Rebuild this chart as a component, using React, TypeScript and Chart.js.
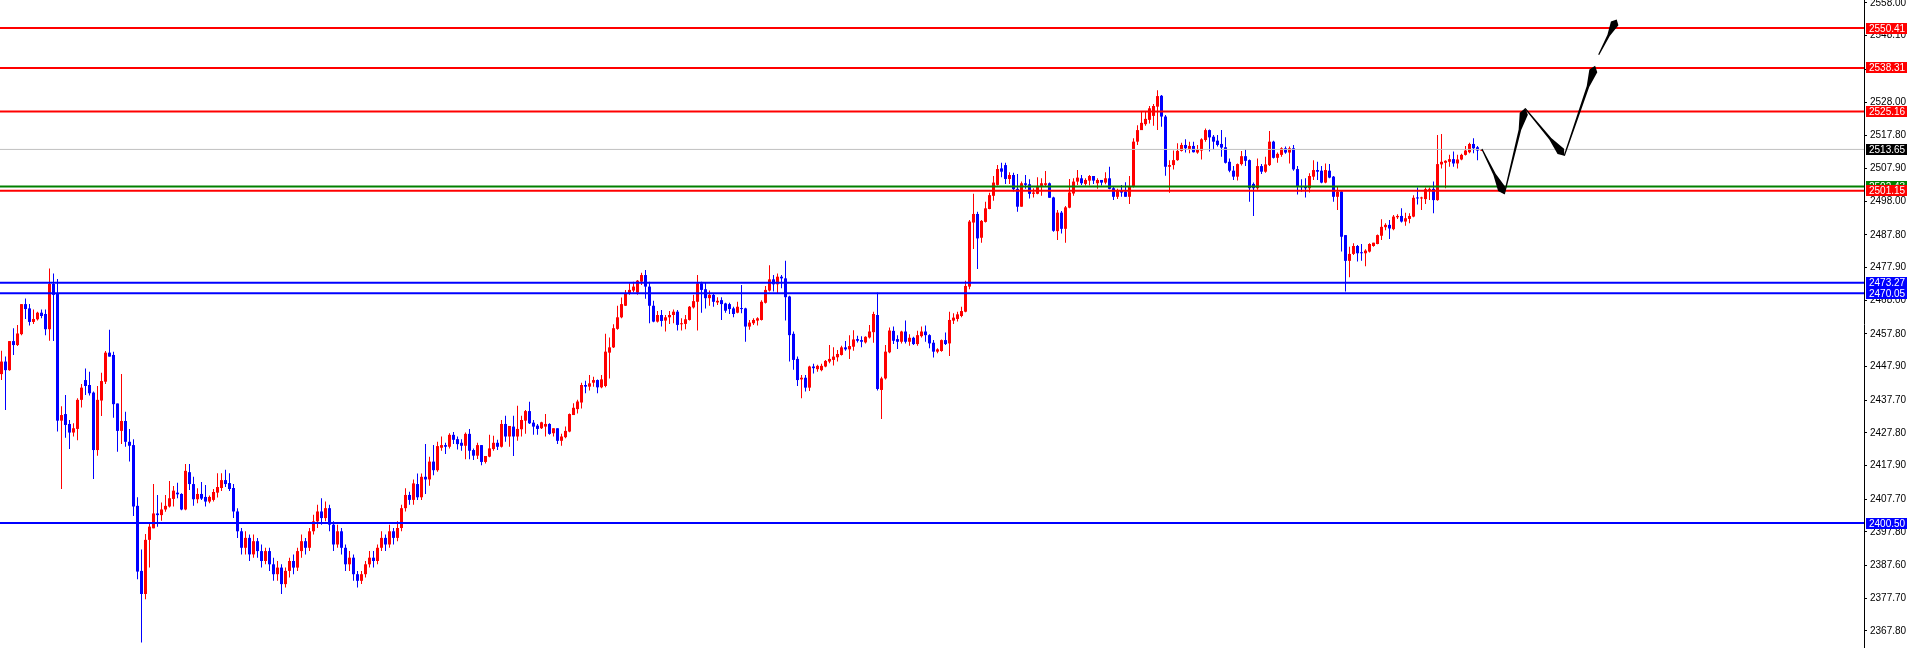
import { useEffect, useRef } from 'react';
import { Chart, registerables } from 'chart.js';

Chart.register(...registerables);

// ---- candle data (index = bar number, left to right) ----
const OPEN = [
  2445.6, 2449.4, 2446.8, 2455.6, 2454.4, 2457.7, 2466.8, 2465.5, 2461.4, 2462.2,
  2464.2, 2463.8, 2459.2, 2472.9, 2470.1, 2431.5, 2433.5, 2430.5, 2427.9, 2429.0,
  2437.8, 2443.8, 2442.3, 2440.0, 2422.6, 2437.6, 2443.3, 2452.1, 2451.4, 2436.7,
  2428.4, 2431.4, 2425.1, 2424.1, 2405.7, 2386.0, 2379.0, 2395.4, 2398.9, 2403.4,
  2402.9, 2404.6, 2405.5, 2407.8, 2409.7, 2409.3, 2404.6, 2415.9, 2412.3, 2407.7,
  2409.3, 2408.4, 2407.0, 2407.5, 2409.7, 2411.1, 2413.5, 2412.6, 2411.1, 2404,
  2398, 2393, 2396, 2391, 2395, 2392, 2389, 2392, 2388, 2385,
  2387, 2382, 2386, 2389, 2387, 2392, 2395, 2393, 2398, 2401,
  2404, 2402, 2405, 2400, 2394, 2398, 2393, 2388, 2390, 2385,
  2383, 2385, 2388, 2390, 2389, 2393, 2396, 2394, 2398, 2396,
  2399, 2405, 2409, 2407.5, 2412.3, 2408.3, 2414.5, 2413.7, 2419.1, 2416.5,
  2423.3, 2424.1, 2423.6, 2427.2, 2425.9, 2424.8, 2423.9, 2427.5, 2422.6, 2420.9,
  2424.1, 2419.0, 2420.6, 2422.9, 2424.8, 2423.6, 2430.5, 2426.7, 2429.7, 2426.7,
  2428.9, 2431.5, 2434.4, 2430.9, 2430.0, 2429.2, 2429.7, 2430.5, 2427.7, 2429.2,
  2425.4, 2426.5, 2428.2, 2433.2, 2435.0, 2437.0, 2442.3, 2441.8, 2443.0, 2443.8,
  2441.6, 2442.0, 2452.1, 2453.7, 2459.3, 2462.8, 2466.3, 2470.1, 2470.9, 2470.3,
  2473.6, 2475.6, 2472.1, 2466.3, 2461.5, 2463.5, 2461.8, 2462.8, 2463.5, 2464.5,
  2460.7, 2460.8, 2462.0, 2465.8, 2467.5, 2473.1, 2471.3, 2468.6, 2469.6, 2467.3,
  2468.0, 2467.0, 2466.8, 2465.5, 2464.2, 2465.5, 2465.5, 2460.0, 2461.0, 2461.8,
  2462.0, 2467.2, 2470.9, 2474.3, 2472.8, 2475.1, 2474.6, 2469.1, 2457.8, 2450.2,
  2444.0, 2444.5, 2441.5, 2447.9, 2447.1, 2446.8, 2447.9, 2449.4, 2449.9, 2450.7,
  2451.4, 2453.7, 2453.1, 2453.9, 2456.2, 2455.9, 2455.2, 2456.7, 2458.3, 2463.5,
  2440.8, 2444.3, 2452.2, 2458.7, 2456.2, 2455.4, 2458.5, 2455.4, 2456.6, 2454.7,
  2457.1, 2458.5, 2457.4, 2455.1, 2452.4, 2452.6, 2455.9, 2454.9, 2461.8, 2462.3,
  2463.2, 2464.5, 2472.1, 2491.5, 2494.1, 2486.9, 2491.7, 2495.6, 2499.6, 2502.9,
  2507.9, 2508.9, 2504.7, 2505.9, 2501.7, 2496.3, 2503.4, 2503.1, 2500.2, 2500.2,
  2502.6, 2502.9, 2503.4, 2499.1, 2488.9, 2494.5, 2489.6, 2496.0, 2500.3, 2503.9,
  2504.9, 2503.2, 2504.2, 2505.6, 2503.4, 2504.4, 2503.6, 2504.9, 2501.9, 2499.3,
  2501.2, 2500.9, 2499.3, 2502.4, 2516.0, 2519.5, 2521.3, 2522.6, 2523.8, 2526.6,
  2529.9, 2523.6, 2508.4, 2508.9, 2510.4, 2513.2, 2515.0, 2513.8, 2514.7, 2512.7,
  2513.3, 2516.5, 2519.5, 2517.5, 2516.3, 2515.3, 2514.3, 2509.9, 2507.2, 2505.4,
  2509.2, 2511.6, 2510.4, 2503.2, 2501.9, 2508.6, 2506.9, 2508.9, 2516.0, 2511.1,
  2512.0, 2514.0, 2512.7, 2514.0, 2507.7, 2502.2, 2502.4, 2501.9, 2505.4, 2507.4,
  2507.2, 2503.6, 2507.2, 2505.4, 2499.3, 2500.9, 2487.7, 2479.9, 2482.0, 2484.4,
  2482.4, 2482.2, 2482.7, 2484.4, 2485.0, 2487.5, 2490.1, 2490.8, 2489.5, 2493.1,
  2493.5, 2491.8, 2492.6, 2493.3, 2499.0, 2498.8, 2498.6, 2501.4, 2501.7, 2498.3,
  2509.1, 2509.6, 2509.9, 2510.7, 2509.4, 2510.6, 2512.0, 2512.8, 2515.3, 2514.3,
  2513.3,
];

const HIGH = [
  2452.7, 2450.9, 2455.6, 2459.5, 2460.5, 2466.8, 2468.5, 2466.8, 2465.2, 2464.5,
  2465.2, 2465.2, 2477.6, 2476.1, 2474.4, 2435.9, 2439.3, 2431.7, 2430.7, 2438.3,
  2442.6, 2447.3, 2446.3, 2440.3, 2442.0, 2446.0, 2452.6, 2459.0, 2452.4, 2436.7,
  2445.6, 2434.2, 2429.0, 2425.9, 2408.3, 2392.5, 2397.2, 2400.4, 2412.3, 2409.0,
  2406.7, 2409.0, 2413.2, 2411.7, 2412.7, 2409.5, 2418.4, 2418.4, 2414.5, 2411.0,
  2412.9, 2412.0, 2408.8, 2410.8, 2415.6, 2415.6, 2416.6, 2415.6, 2412.3, 2405,
  2399, 2398, 2397, 2397, 2396, 2394, 2393, 2393, 2390, 2389,
  2388, 2387, 2390, 2391, 2393, 2397, 2396, 2399, 2403, 2406,
  2408, 2407, 2406, 2401, 2400, 2399, 2394, 2392, 2391, 2386,
  2386, 2389, 2392, 2392, 2394, 2398, 2397, 2400, 2399, 2401,
  2406, 2411, 2410, 2413.7, 2415.5, 2415.5, 2424.4, 2420.6, 2424.1, 2425.1,
  2426.7, 2424.8, 2427.7, 2428.1, 2426.7, 2425.9, 2427.9, 2429.0, 2423.1, 2424.8,
  2424.1, 2420.8, 2427.2, 2426.9, 2425.7, 2431.7, 2433.0, 2429.9, 2433.0, 2436.0,
  2433.0, 2434.7, 2437.2, 2431.7, 2430.5, 2431.2, 2433.5, 2430.7, 2429.2, 2429.2,
  2427.5, 2429.7, 2433.7, 2436.8, 2437.8, 2443.0, 2443.6, 2445.3, 2444.8, 2444.0,
  2445.3, 2457.8, 2456.7, 2460.7, 2466.3, 2468.8, 2471.1, 2473.1, 2473.6, 2474.1,
  2476.3, 2477.1, 2473.6, 2467.8, 2464.7, 2465.0, 2463.5, 2464.7, 2465.2, 2465.0,
  2462.5, 2463.5, 2466.2, 2469.6, 2475.6, 2473.6, 2473.3, 2470.9, 2470.1, 2468.9,
  2468.9, 2467.2, 2467.2, 2466.0, 2467.5, 2472.6, 2465.7, 2462.0, 2462.5, 2462.8,
  2468.0, 2472.3, 2478.6, 2475.6, 2476.1, 2475.6, 2479.9, 2469.3, 2458.5, 2450.9,
  2445.3, 2445.3, 2448.1, 2448.7, 2448.4, 2448.7, 2449.9, 2454.4, 2453.7, 2452.9,
  2454.2, 2455.6, 2457.4, 2458.9, 2457.2, 2457.1, 2457.1, 2460.5, 2464.5, 2470.3,
  2444.8, 2454.4, 2459.7, 2460.0, 2457.4, 2458.7, 2461.8, 2457.7, 2456.9, 2458.7,
  2460.0, 2460.3, 2457.7, 2455.9, 2453.4, 2456.1, 2458.2, 2464.5, 2464.0, 2464.5,
  2466.0, 2473.9, 2492.3, 2500.2, 2494.8, 2492.3, 2497.8, 2500.5, 2505.6, 2508.9,
  2509.6, 2509.6, 2506.7, 2506.6, 2506.2, 2503.9, 2505.9, 2504.6, 2501.9, 2505.2,
  2504.9, 2507.1, 2503.6, 2499.3, 2495.3, 2495.0, 2496.5, 2504.7, 2504.9, 2507.4,
  2505.9, 2504.9, 2505.9, 2505.6, 2504.9, 2504.4, 2506.7, 2508.4, 2502.4, 2501.7,
  2502.9, 2503.7, 2505.6, 2517.0, 2521.0, 2525.1, 2525.1, 2526.8, 2527.4, 2531.6,
  2530.1, 2524.1, 2510.4, 2513.3, 2515.5, 2515.7, 2516.7, 2516.0, 2516.0, 2515.0,
  2517.0, 2520.0, 2519.7, 2518.0, 2518.0, 2519.5, 2517.3, 2510.9, 2508.6, 2509.4,
  2513.2, 2513.7, 2510.6, 2503.6, 2510.9, 2509.2, 2511.4, 2519.2, 2516.3, 2512.7,
  2514.3, 2514.5, 2514.5, 2515.0, 2508.6, 2504.6, 2504.9, 2506.4, 2510.4, 2509.9,
  2508.6, 2509.4, 2509.2, 2505.6, 2502.4, 2501.1, 2487.7, 2484.2, 2485.2, 2484.7,
  2485.0, 2483.4, 2485.2, 2485.4, 2487.9, 2492.5, 2491.3, 2492.3, 2493.8, 2494.0,
  2495.8, 2494.5, 2494.3, 2499.8, 2502.1, 2499.3, 2502.1, 2502.1, 2503.9, 2518.0,
  2518.3, 2510.4, 2512.0, 2513.0, 2512.0, 2512.3, 2514.7, 2515.7, 2517.0, 2514.7,
  2513.8,
];

const LOW = [
  2443.8, 2434.7, 2446.6, 2451.4, 2454.1, 2457.4, 2462.3, 2460.3, 2460.8, 2461.8,
  2462.5, 2457.4, 2455.7, 2455.6, 2428.2, 2410.8, 2426.3, 2422.9, 2426.7, 2425.6,
  2435.5, 2439.3, 2439.1, 2413.8, 2420.9, 2432.9, 2442.6, 2450.9, 2432.4, 2422.1,
  2424.4, 2423.6, 2419.1, 2402.6, 2383.5, 2364.3, 2377.4, 2387.0, 2398.9, 2399.4,
  2401.2, 2403.9, 2405.2, 2405.5, 2408.0, 2404.4, 2404.4, 2410.5, 2405.7, 2406.5,
  2407.5, 2405.5, 2406.5, 2407.0, 2408.2, 2410.2, 2411.4, 2410.2, 2402.0, 2396,
  2391, 2391, 2389, 2390, 2390, 2387, 2388, 2386, 2383, 2383,
  2379, 2381, 2384, 2385, 2386, 2390, 2391, 2392, 2397, 2399,
  2400, 2401, 2398, 2392, 2393, 2391, 2386, 2386, 2383, 2381,
  2382, 2384, 2387, 2387, 2388, 2392, 2392, 2393, 2394, 2395,
  2398, 2404, 2406, 2406.0, 2407.5, 2407.5, 2409.3, 2411.8, 2415.0, 2416.0,
  2422.4, 2421.4, 2423.1, 2424.4, 2422.8, 2422.4, 2419.8, 2419.8, 2419.6, 2419.9,
  2418.0, 2418.5, 2420.4, 2422.4, 2422.6, 2423.4, 2425.1, 2423.6, 2420.8, 2425.4,
  2426.7, 2427.5, 2430.5, 2427.2, 2427.2, 2429.0, 2426.7, 2427.2, 2426.7, 2424.4,
  2423.9, 2426.2, 2428.0, 2433.2, 2433.7, 2435.2, 2439.8, 2440.6, 2441.8, 2439.8,
  2441.3, 2441.6, 2444.3, 2453.5, 2459.0, 2462.5, 2466.2, 2469.6, 2470.4, 2469.6,
  2472.6, 2468.4, 2461.0, 2461.3, 2461.2, 2460.0, 2458.5, 2460.8, 2461.0, 2458.8,
  2458.8, 2459.2, 2461.8, 2465.5, 2458.8, 2464.2, 2465.5, 2466.3, 2466.0, 2466.5,
  2462.0, 2464.2, 2463.8, 2462.8, 2464.0, 2464.0, 2455.4, 2459.0, 2460.5, 2460.3,
  2461.8, 2467.0, 2470.6, 2470.6, 2470.1, 2471.6, 2461.8, 2449.4, 2446.9, 2442.0,
  2438.3, 2440.3, 2440.5, 2445.8, 2446.3, 2446.5, 2447.7, 2448.9, 2448.2, 2449.4,
  2451.2, 2452.7, 2450.2, 2452.7, 2455.2, 2453.7, 2454.9, 2456.4, 2455.1, 2440.6,
  2432.0, 2444.0, 2451.9, 2454.7, 2453.2, 2454.9, 2454.9, 2454.2, 2454.4, 2454.2,
  2456.7, 2455.4, 2453.4, 2450.6, 2451.9, 2452.4, 2454.4, 2451.1, 2460.8, 2461.5,
  2462.8, 2464.3, 2471.3, 2483.5, 2477.4, 2485.4, 2491.5, 2495.5, 2498.1, 2502.7,
  2505.2, 2503.2, 2503.2, 2500.9, 2494.8, 2496.3, 2501.7, 2498.8, 2499.1, 2500.1,
  2499.6, 2502.6, 2499.0, 2488.7, 2486.2, 2488.2, 2485.4, 2495.8, 2499.6, 2502.9,
  2502.9, 2502.7, 2502.7, 2503.2, 2501.7, 2502.7, 2503.1, 2501.6, 2498.3, 2498.6,
  2499.3, 2499.3, 2497.1, 2502.1, 2515.0, 2519.5, 2520.8, 2521.5, 2520.8, 2519.5,
  2520.5, 2505.7, 2500.5, 2507.6, 2510.2, 2513.0, 2512.7, 2512.5, 2512.7, 2512.3,
  2510.6, 2516.0, 2513.0, 2513.5, 2514.5, 2511.4, 2509.4, 2506.7, 2504.4, 2504.2,
  2508.8, 2508.6, 2497.8, 2493.5, 2501.4, 2506.2, 2506.6, 2508.6, 2510.9, 2509.6,
  2511.4, 2512.3, 2509.4, 2507.2, 2500.0, 2500.8, 2499.1, 2500.6, 2504.4, 2504.4,
  2503.4, 2503.4, 2504.9, 2497.8, 2495.3, 2482.7, 2470.6, 2474.9, 2481.7, 2479.7,
  2479.9, 2478.3, 2482.4, 2484.2, 2484.9, 2486.2, 2489.2, 2486.5, 2489.2, 2492.6,
  2491.5, 2490.5, 2491.3, 2493.1, 2497.0, 2495.3, 2497.1, 2498.3, 2494.3, 2498.1,
  2507.9, 2501.9, 2508.4, 2508.4, 2507.9, 2510.4, 2511.8, 2512.5, 2512.5, 2510.4,
  2513.2,
];

const CLOSE = [
  2449.4, 2446.8, 2455.6, 2454.4, 2457.9, 2466.8, 2465.3, 2461.4, 2462.3, 2464.2,
  2463.2, 2459.2, 2472.9, 2469.6, 2431.5, 2433.2, 2430.2, 2427.9, 2429.2, 2437.8,
  2441.5, 2442.0, 2439.8, 2422.6, 2437.8, 2443.5, 2452.1, 2450.9, 2436.5, 2428.4,
  2431.4, 2425.1, 2423.9, 2405.5, 2385.8, 2379.0, 2395.4, 2399.4, 2403.4, 2402.9,
  2404.6, 2405.7, 2408.0, 2410.3, 2409.2, 2404.6, 2416.3, 2412.3, 2407.7, 2409.3,
  2407.9, 2407.0, 2408.4, 2409.9, 2411.4, 2413.5, 2412.3, 2410.8, 2404.0, 2398,
  2393, 2396, 2391, 2395, 2392, 2389, 2392, 2388, 2385, 2387,
  2382, 2386, 2389, 2387, 2392, 2395, 2393, 2398, 2401, 2404,
  2402, 2405, 2400, 2394, 2398, 2393, 2388, 2390, 2385, 2383,
  2385, 2388, 2390, 2389, 2393, 2396, 2394, 2398, 2396, 2399,
  2405, 2409, 2407.5, 2412.5, 2408.3, 2414.5, 2413.7, 2419.1, 2416.5, 2423.8,
  2424.1, 2423.6, 2427.2, 2425.7, 2424.4, 2423.9, 2427.5, 2422.4, 2420.9, 2424.1,
  2419.0, 2420.8, 2423.1, 2424.8, 2423.6, 2430.5, 2426.7, 2429.9, 2426.7, 2429.0,
  2431.7, 2434.4, 2430.7, 2429.7, 2429.0, 2431.0, 2430.5, 2427.5, 2429.2, 2425.4,
  2426.7, 2428.4, 2433.5, 2435.4, 2437.3, 2442.3, 2441.8, 2442.8, 2443.8, 2441.6,
  2444.0, 2452.4, 2453.7, 2459.5, 2462.8, 2466.8, 2470.1, 2471.1, 2472.1, 2473.9,
  2475.6, 2472.1, 2466.3, 2461.5, 2463.5, 2461.7, 2462.8, 2463.5, 2464.5, 2460.5,
  2461.0, 2462.2, 2466.0, 2467.7, 2473.1, 2471.1, 2468.6, 2469.6, 2467.5, 2467.8,
  2466.8, 2464.8, 2465.3, 2463.8, 2466.0, 2465.3, 2460.0, 2461.2, 2462.0, 2462.5,
  2467.5, 2471.1, 2474.3, 2472.8, 2475.1, 2474.6, 2468.9, 2457.4, 2449.9, 2443.8,
  2444.5, 2441.5, 2447.9, 2447.4, 2448.1, 2448.1, 2449.6, 2450.2, 2450.9, 2451.7,
  2453.7, 2453.1, 2454.1, 2456.1, 2455.7, 2455.4, 2456.9, 2458.5, 2463.8, 2441.1,
  2444.3, 2452.4, 2458.8, 2455.7, 2455.4, 2458.5, 2455.4, 2456.6, 2454.7, 2457.4,
  2458.5, 2457.4, 2454.9, 2452.4, 2453.1, 2455.9, 2454.7, 2462.0, 2462.7, 2463.7,
  2464.7, 2472.3, 2491.8, 2494.1, 2486.7, 2492.0, 2495.8, 2499.8, 2503.6, 2507.7,
  2506.9, 2504.7, 2505.9, 2501.6, 2496.3, 2503.4, 2502.9, 2500.2, 2500.6, 2502.6,
  2503.4, 2503.4, 2499.0, 2489.0, 2494.5, 2489.6, 2496.1, 2500.6, 2503.9, 2505.1,
  2503.4, 2504.4, 2505.6, 2504.2, 2504.4, 2503.6, 2504.9, 2501.7, 2499.3, 2501.2,
  2500.6, 2499.3, 2502.4, 2516.0, 2519.5, 2521.7, 2522.9, 2526.1, 2526.8, 2529.8,
  2523.6, 2508.4, 2508.9, 2510.4, 2513.2, 2515.0, 2514.0, 2514.7, 2512.8, 2513.5,
  2516.7, 2519.5, 2517.3, 2516.0, 2515.0, 2514.2, 2509.6, 2507.2, 2505.4, 2509.2,
  2511.6, 2510.2, 2501.9, 2501.9, 2508.6, 2506.9, 2509.1, 2516.0, 2511.1, 2512.3,
  2514.0, 2512.7, 2514.0, 2507.6, 2502.4, 2502.2, 2501.9, 2505.6, 2507.4, 2506.9,
  2503.6, 2507.4, 2505.1, 2499.3, 2500.8, 2487.2, 2479.9, 2482.0, 2484.4, 2482.2,
  2482.2, 2483.0, 2485.0, 2485.4, 2487.7, 2490.2, 2490.8, 2489.7, 2493.3, 2493.5,
  2491.8, 2492.8, 2493.5, 2499.0, 2498.8, 2499.1, 2501.6, 2501.7, 2498.3, 2509.2,
  2509.9, 2510.2, 2510.7, 2509.4, 2510.6, 2512.0, 2513.3, 2515.3, 2514.0, 2513.3,
  2513.7,
];

// ---- horizontal levels ----
const RED_LEVELS = [2550.41, 2538.31, 2525.16, 2501.15];
const BLUE_LEVELS = [2473.27, 2470.05, 2400.5];
const GREEN_LEVELS = [2502.43];
const BID = 2513.65;

// ---- right axis ticks ----
const Y_TICKS = [
  2558.0, 2548.1, 2538.0, 2528.0, 2517.8, 2507.9, 2498.0, 2487.8, 2477.9, 2468.0,
  2457.8, 2447.9, 2437.7, 2427.8, 2417.9, 2407.7, 2397.8, 2387.6, 2377.7, 2367.8,
];

// ---- projected path arrows (bar index, price) ----
const ARROW_FROM_X = [370.1, 375.7, 380.9, 390.7, 399.3];
const ARROW_FROM_Y = [2513.8, 2500.1, 2526.1, 2511.75, 2542.3];
const ARROW_TO_X = [375.7, 380.9, 390.7, 398.4, 403.8];
const ARROW_TO_Y = [2500.1, 2526.1, 2511.75, 2539.0, 2553.0];

const X_MIN = -0.375;
const X_MAX = 465.625;
const Y_MIN = 2362.65;
const Y_MAX = 2558.9;

const UP = '#ff0000';
const DOWN = '#0000ff';

const overlayPlugin = {
  id: 'overlay',
  afterDatasetsDraw(chart: any) {
    const { ctx, scales } = chart;
    const xs = scales.x;
    const ys = scales.y;
    ctx.save();
    ctx.fillStyle = '#000';
    for (let k = 0; k < ARROW_FROM_X.length; k++) {
      const x0 = xs.getPixelForValue(ARROW_FROM_X[k]);
      const y0 = ys.getPixelForValue(ARROW_FROM_Y[k]);
      const x1 = xs.getPixelForValue(ARROW_TO_X[k]);
      const y1 = ys.getPixelForValue(ARROW_TO_Y[k]);
      const dx = x1 - x0;
      const dy = y1 - y0;
      const L = Math.hypot(dx, dy);
      const ux = dx / L;
      const uy = dy / L;
      const nx = -uy;
      const ny = ux;
      const head = Math.min(22, L * 0.45);
      const pts: [number, number][] = [
        [0, 0.6], [L - head, 1.3], [L - head * 0.25, 4.2], [L, 0],
        [L - head * 0.25, -4.2], [L - head, -1.3], [0, -0.6],
      ];
      ctx.beginPath();
      pts.forEach(([s, w], j) => {
        const px = x0 + ux * s + nx * w;
        const py = y0 + uy * s + ny * w;
        if (j === 0) ctx.moveTo(px, py);
        else ctx.lineTo(px, py);
      });
      ctx.closePath();
      ctx.fill();
    }
    ctx.restore();
  },
  afterDraw(chart: any) {
    const { ctx, scales, chartArea } = chart;
    const ys = scales.y;
    const left = chartArea.right + 2;
    const drawBox = (v: number, bg: string) => {
      const py = ys.getPixelForValue(v);
      ctx.fillStyle = bg;
      ctx.fillRect(left, Math.round(py - 5.5), 41, 11);
      ctx.fillStyle = '#ffffff';
      ctx.font = '10px "Liberation Sans", Arial, sans-serif';
      ctx.textBaseline = 'middle';
      ctx.textAlign = 'left';
      ctx.fillText(v.toFixed(2), left + 3, Math.round(py - 5.5) + 6);
    };
    ctx.save();
    GREEN_LEVELS.forEach((v) => drawBox(v, '#008000'));
    RED_LEVELS.forEach((v) => drawBox(v, '#ff0000'));
    BLUE_LEVELS.forEach((v) => drawBox(v, '#0000ff'));
    drawBox(BID, '#000000');
    ctx.restore();
  },
};

export default function App() {
  const ref = useRef<HTMLCanvasElement>(null);

  useEffect(() => {
    document.body.style.margin = '0';
    const n = Math.min(OPEN.length, HIGH.length, LOW.length, CLOSE.length);
    const idx = Array.from({ length: n }, (_, i) => i);
    const colors = idx.map((i) => (CLOSE[i] > OPEN[i] ? UP : DOWN));

    const levelLine = (v: number, color: string, width: number) => ({
      type: 'line' as const,
      data: [{ x: X_MIN, y: v }, { x: X_MAX, y: v }],
      borderColor: color,
      borderWidth: width,
      pointRadius: 0,
      fill: false,
      order: 0,
    });

    const chart = new Chart(ref.current as HTMLCanvasElement, {
      type: 'bar',
      data: {
        datasets: [
          levelLine(BID, '#c0c0c0', 1),
          ...GREEN_LEVELS.map((v) => levelLine(v, '#008000', 2)),
          ...RED_LEVELS.map((v) => levelLine(v, '#ff0000', 2)),
          ...BLUE_LEVELS.map((v) => levelLine(v, '#0000ff', 2)),
          {
            type: 'bar' as const,
            data: idx.map((i) => ({ x: i, y: [Math.min(OPEN[i], CLOSE[i]), Math.max(OPEN[i], CLOSE[i])] })),
            backgroundColor: colors,
            borderWidth: 0,
            barThickness: 3,
            grouped: false,
            minBarLength: 1,
            inflateAmount: 0,
            order: 1,
          } as any,
          {
            type: 'bar' as const,
            data: idx.map((i) => ({ x: i, y: [LOW[i], HIGH[i]] })),
            backgroundColor: colors,
            borderWidth: 0,
            barThickness: 1,
            grouped: false,
            inflateAmount: 0,
            order: 2,
          } as any,
        ],
      },
      options: {
        animation: false,
        responsive: false,
        devicePixelRatio: 1,
        events: [],
        layout: { padding: 0 },
        plugins: { legend: { display: false }, tooltip: { enabled: false } },
        scales: {
          x: { type: 'linear', min: X_MIN, max: X_MAX, display: false, offset: false },
          y: {
            type: 'linear',
            position: 'right',
            min: Y_MIN,
            max: Y_MAX,
            afterBuildTicks: (scale: any) => {
              scale.ticks = Y_TICKS.map((v) => ({ value: v }));
            },
            afterFit: (scale: any) => {
              scale.width = 45;
              scale.paddingTop = 0;
              scale.paddingBottom = 0;
            },
            grid: { drawOnChartArea: false, drawTicks: true, tickLength: 3, color: '#000000' },
            border: { display: true, color: '#000000', width: 1 },
            ticks: {
              autoSkip: false,
              padding: 3,
              color: '#000000',
              font: { family: '"Liberation Sans", Arial, sans-serif', size: 10 },
              callback: (v: any) => Number(v).toFixed(2),
            },
          },
        },
      } as any,
      plugins: [overlayPlugin],
    });
    return () => chart.destroy();
  }, []);

  return (
    <div style={{ width: 1909, height: 648, background: '#ffffff' }}>
      <canvas ref={ref} width={1909} height={648} style={{ display: 'block' }} />
    </div>
  );
}
